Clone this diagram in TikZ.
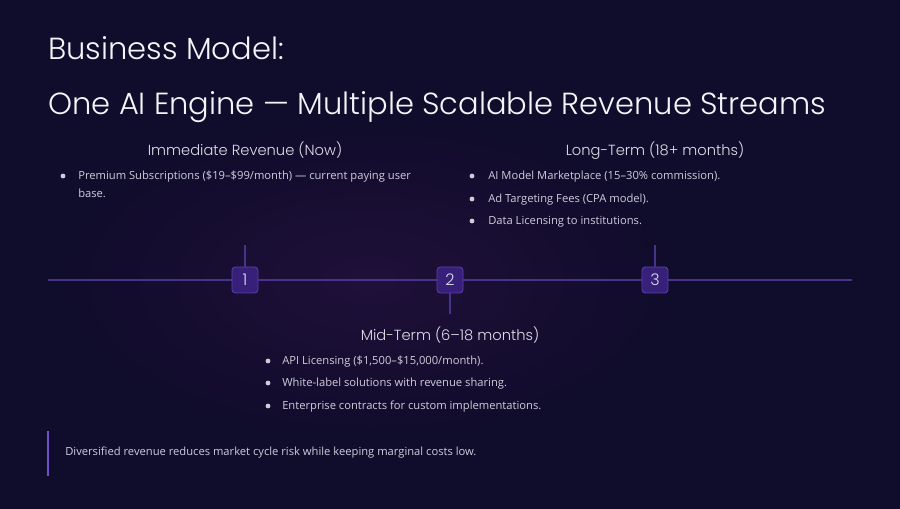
\documentclass[tikz,border=0pt]{standalone}
\usepackage{fontspec}
\setmainfont{Open Sans}
\newfontfamily\headfont{Poppins}[UprightFont=* Light]
\newfontfamily\bodyfont{Open Sans}
\definecolor{bgc}{HTML}{100C2B}
\definecolor{glow}{HTML}{22113C}
\definecolor{titlec}{HTML}{F4F4FA}
\definecolor{headc}{HTML}{DEDEE8}
\definecolor{bodyc}{HTML}{CDCDDA}
\definecolor{linec}{HTML}{48338C}
\definecolor{boxfill}{HTML}{36207A}
\definecolor{boxdraw}{HTML}{5B40A8}
\definecolor{barc}{HTML}{6E50C8}
\tikzset{
  titletext/.style={anchor=base west, inner sep=0pt, text=titlec, font=\headfont\fontsize{22.9}{25}\selectfont},
  headtext/.style={anchor=base, inner sep=0pt, text=headc, font=\headfont\fontsize{11}{13}\selectfont},
  bodytext/.style={anchor=base west, inner sep=0pt, text=bodyc, font=\bodyfont\fontsize{8.4}{10}\selectfont},
  bulletdot/.style={circle, fill=bodyc, inner sep=0pt, minimum size=3.6pt},
  marker/.style={rectangle, rounded corners=2.5pt, fill=boxfill, draw=boxdraw, line width=0.6pt, minimum width=19.5pt, minimum height=19.5pt, inner sep=0pt, text=headc, font=\headfont\fontsize{12}{14}\selectfont},
  tline/.style={draw=linec, line width=1pt},
}
\begin{document}
\begin{tikzpicture}[x=0.75pt, y=-0.75pt]
\useasboundingbox (0,0) rectangle (900,509);
\fill[bgc] (0,0) rectangle (900,509);
\begin{scope}
\clip (0,0) rectangle (900,509);
\shade[inner color=glow, outer color=bgc, opacity=0.85] (370,280) ellipse (330 and 170);
\end{scope}

\node[titletext] (t1) at (48,60) {Business Model:};
\node[titletext] (t2) at (48,115) {One AI Engine — Multiple Scalable Revenue Streams};

% timeline
\coordinate (ls) at (48,280);
\coordinate (le) at (852,280);
\draw[tline] (ls) -- (le);
\node[marker] (m1) at (245,280) {1};
\node[marker] (m2) at (450,280) {2};
\node[marker] (m3) at (655,280) {3};
\coordinate (k1) at (245,245);
\coordinate (k2) at (450,314);
\coordinate (k3) at (655,245);
\draw[tline] (k1) -- (m1.north);
\draw[tline] (m2.south) -- (k2);
\draw[tline] (k3) -- (m3.north);

% Immediate
\node[headtext] (h1) at (245,156) {Immediate Revenue (Now)};
\node[bulletdot] (b11) at (63,176) {};
\node[bodytext] (i11) at (78,180) {Premium Subscriptions (\$19–\$99/month) — current paying user};
\node[bodytext] (i12) at (78,198) {base.};

% Long-term
\node[headtext] (h3) at (655,156) {Long-Term (18+ months)};
\node[bulletdot] (b31) at (472,176) {};
\node[bodytext] (i31) at (488,180) {AI Model Marketplace (15–30\% commission).};
\node[bulletdot] (b32) at (472,199) {};
\node[bodytext] (i32) at (488,203) {Ad Targeting Fees (CPA model).};
\node[bulletdot] (b33) at (472,221) {};
\node[bodytext] (i33) at (488,225) {Data Licensing to institutions.};

% Mid-term
\node[headtext] (h2) at (450,341) {Mid-Term (6–18 months)};
\node[bulletdot] (b21) at (268,361) {};
\node[bodytext] (i21) at (282,365) {API Licensing (\$1,500–\$15,000/month).};
\node[bulletdot] (b22) at (268,383) {};
\node[bodytext] (i22) at (282,387) {White-label solutions with revenue sharing.};
\node[bulletdot] (b23) at (268,406) {};
\node[bodytext] (i23) at (282,410) {Enterprise contracts for custom implementations.};

% note
\coordinate (q1) at (48,431);
\coordinate (q2) at (48,476);
\draw[draw=barc, line width=1.5pt] (q1) -- (q2);
\node[bodytext] (qt) at (65,456) {Diversified revenue reduces market cycle risk while keeping marginal costs low.};
\end{tikzpicture}
\end{document}
